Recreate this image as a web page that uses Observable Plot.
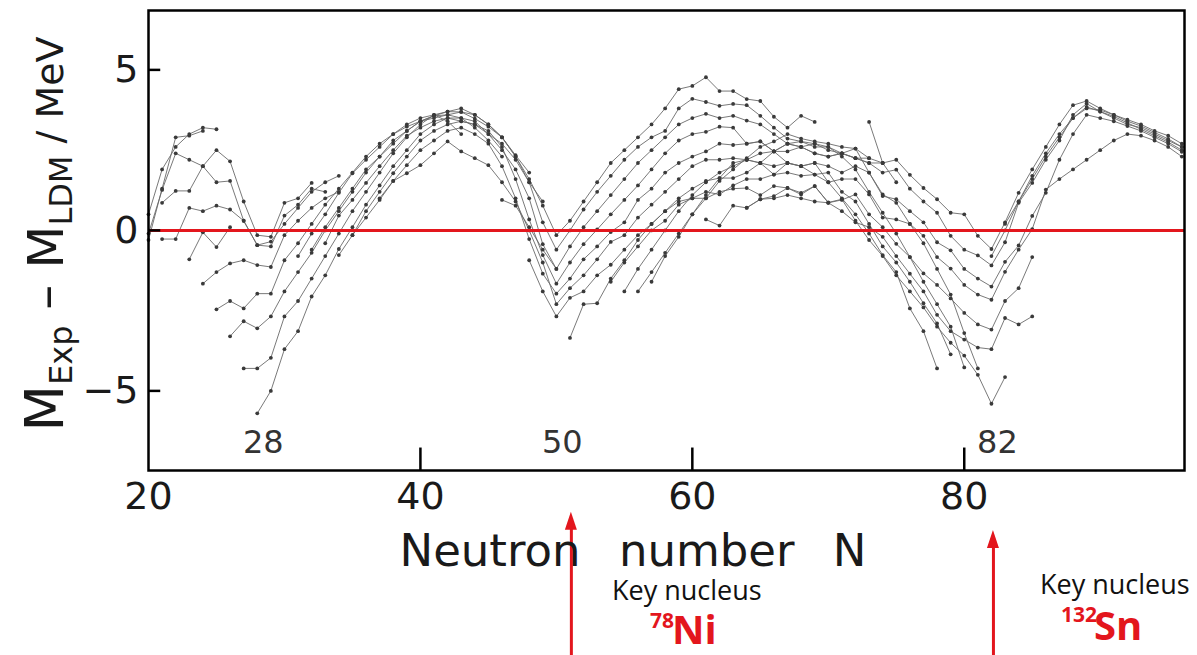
<!DOCTYPE html>
<html>
<head>
<meta charset="utf-8">
<script src="https://cdn.jsdelivr.net/npm/d3@7"></script>
<script src="https://cdn.jsdelivr.net/npm/@observablehq/plot@0.6"></script>
<style>
  html, body { margin: 0; padding: 0; background: #fff; }
  #chart { width: 1197px; height: 655px; }
</style>
</head>
<body>
<div id="chart"></div>
<script>
// Isotopic chains: [first neutron number N, mass differences M_exp - M_LDM (MeV) at N, N+1, ...]
const lightChains = [
  [20, [-0.3, 1.3, 2.9, 2.95, 3.1]],
  [20, [0.5, 1.9, 2.6, 3.0, 3.2, 3.15]],
  [20, [-0.1, 1.26, 2.4, 2.2, 2.0, 2.5, 2.15, 0.9, -0.15, -0.2, 0.86, 1.0, 1.48]],
  [21, [0.86, 1.23, 1.23, 2.0, 1.5, 1.54, 0.3, -0.46, -0.5, 0.46, 0.8, 1.3, 1.2]],
  [21, [-0.27, -0.27, 0.7, 0.6, 0.77, 0.65, 0.3, -0.46, -0.35, 0.2, 0.7, 1.2, 1.5, 1.7]],
  [23, [-0.9, -0.06, -0.52, 0.1]],
  [24, [-1.66, -1.3, -1.03, -0.93, -1.08, -1.14, -0.15, 0.3, 0.7, 1.0, 1.2]],
  [25, [-2.46, -2.2, -2.43, -1.97, -1.97, -0.93, -0.4, 0.2, 0.8, 1.3, 1.8, 2.3, 2.7, 3.0, 3.3, 3.5, 3.6, 3.4, 3.0]],
  [26, [-3.3, -2.83, -3.05, -2.68, -1.9, -1.3, -0.7, 0.0, 0.6, 1.2, 1.8, 2.3, 2.8, 3.1, 3.4, 3.5, 3.6, 3.5, 3.2, 2.8, 2.3]],
  [27, [-4.3, -4.3, -3.97, -2.68, -2.2, -1.5, -0.8, -0.1, 0.6, 1.2, 1.8, 2.4, 2.9, 3.3, 3.6, 3.7, 3.8, 3.6, 3.3, 2.9, 2.34, 1.8]],
  [28, [-5.7, -5.0, -3.7, -3.14, -2.06, -1.4, -0.58, 0.1, 0.8, 1.4, 2.0, 2.5, 3.0, 3.3, 3.5, 3.4, 3.3, 3.0, 2.7, 2.2, 1.5, 0.9]]
];

const midChains = [
  [31, [-0.8, -0.1, 0.5, 1.17, 1.78, 2.2, 2.6, 3.0, 3.23, 3.4, 3.57, 3.6, 3.69, 3.48, 3.23, 2.9, 2.3, 1.6, 0.77, -0.15,
        0.3, 0.9, 1.5, 2.1, 2.5, 2.9, 3.3, 3.8, 4.4, 4.5, 4.77, 4.34, 4.34, 4.09, 4.03, 3.54, 3.2, 3.57, 3.38]],
  [32, [-0.6, 0.1, 0.7, 1.3, 1.9, 2.3, 2.7, 3.1, 3.4, 3.57, 3.7, 3.69, 3.6, 3.3, 2.9, 2.3, 1.5, 0.25, -0.6,
        0.0, 0.65, 1.2, 1.7, 2.2, 2.6, 2.9, 3.1, 3.8, 4.1, 4.0, 3.88, 3.94, 3.9, 3.57, 3.2, 2.86, 2.77, 2.7, 2.6,
        2.3, 1.9, 1.2, 0.55, -0.1, -0.83, -1.6, -2.3, -3.0, -4.27]],
  [33, [-0.4, 0.46, 0.95, 1.48, 2.0, 2.5, 2.95, 3.2, 3.4, 3.5, 3.5, 3.4, 3.0, 2.5, 1.9, 1.0, -0.43, -1.2,
        -0.5, 0.1, 0.6, 1.1, 1.6, 2.1, 2.5, 2.9, 3.3, 3.5, 3.63, 3.5, 3.57, 3.42, 3.3, 3.0, 2.7, 2.6, 2.7, 2.5, 2.4, 2.55,
        1.8, 1.12, 0.86, 0.2, -0.4, -1.2, -2.0, -3.2, -4.3]],
  [34, [-0.77, -0.15, 0.6, 1.2, 1.78, 2.3, 2.8, 3.1, 3.3, 3.4, 3.3, 3.1, 2.6, 1.6, 0.34, -0.77, -1.66,
        -1.0, -0.43, 0.03, 0.5, 0.95, 1.4, 1.9, 2.4, 2.8, 3.0, 3.07, 3.23, 3.2, 2.7, 2.77, 2.46, 2.46, 2.6, 2.4, 2.3, 2.4, 2.25, 2.25]],
  [35, [-0.15, 0.4, 0.95, 1.54, 2.03, 2.5, 2.8, 3.1, 3.2, 3.0, 2.7, 2.0, 1.0, -0.27, -1.35, -1.97,
        -1.5, -0.9, -0.5, -0.05, 0.25, 0.95, 1.3, 1.8, 2.1, 2.3, 2.46, 2.7, 2.66, 2.7, 2.77, 2.46, 2.7, 2.77, 2.6, 2.6, 2.4, 2.25, 2.1, 2.1]],
  [37, [1.0, 1.54, 1.78, 2.03, 2.4, 2.77, 2.46, 2.25, 2.03, 1.5, 0.9, 0.0, -1.0, -2.3,
        -1.8, -1.4, -0.9, -0.36, -0.15, 0.4, 0.8, 1.2, 1.6, 2.0, 2.2, 2.2, 2.25, 2.2, 2.1, 1.74, 2.1, 2.0,
        2.1, 1.5, 1.0, 0.5, -0.1, -0.77, -1.3, -2.43, -3.14, -4.3]],
  [46, [0.95, 0.77, 0.1, -0.6, -1.2]],
  [48, [-0.93, -1.9, -2.68, -2.1, -1.9, -1.4, -1.07, -0.6, -0.15, 0.2, 0.6, 1.0, 1.3, 1.54, 1.63, 1.63, 1.8, 2.1, 2.46,
        2.1, 2.0, 1.74, 1.8, 1.2, 0.9, 0.2, -0.5, -1.0, -1.6, -2.27, -2.9, -3.86]]
];

const heavyChains = [
  [57, [-1.6, -0.8, -0.2, 0.5, 1.0, 1.54, 1.9, 2.25, 2.6, 2.77, 3.0, 2.86, 2.77, 2.7, 2.6,
        2.55, 2.25, 2.1, 2.2, 1.73, 1.32, 0.97, 0.55, 0.5, -0.17, -0.58, 0.25, 1.17, 1.9, 2.6, 3.3, 3.9, 4.03,
        3.8, 3.6, 3.45, 3.3, 3.1, 2.95, 2.7]],
  [56, [-1.9, -1.3, -0.7, -0.1, 0.5, 1.1, 1.63, 2.1, 2.2, 2.4, 2.46, 2.7, 2.6, 2.4, 2.3, 2.4,
        2.25, 2.1, 1.8, 1.89, 1.3, 0.9, 0.55, -0.17, -0.6, -0.78, -1.09, -0.37, 0.86, 1.48, 2.2, 2.8, 3.6, 3.95,
        3.7, 3.55, 3.35, 3.15, 2.95, 2.75, 2.5]],
  [55, [-1.9, -1.2, -0.6, 0.0, 0.6, 1.1, 1.5, 1.8, 2.0, 2.2, 2.1, 2.0, 2.1, 2.0, 2.1, 2.0, 1.8,
        2.0, 1.8, 1.07, 0.97, 0.6, 0.25, -0.37, -0.62, -1.2, -1.5, -1.75, -0.98, -0.47, 0.45, 1.17, 2.2, 3.0, 3.6,
        3.5, 3.4, 3.25, 3.1, 2.9, 2.7, 2.45]],
  [54, [-1.6, -1.0, -0.5, 0.0, 0.3, 0.8, 1.0, 1.2, 1.12, 1.4, 1.6, 1.6, 1.74, 1.8, 1.7, 1.74, 1.5, 1.6,
        1.6, 1.12, 0.4, 0.34, 0.2, -0.17, -0.83, -1.19, -1.7, -2.0, -2.16, -1.29, -0.6, 0.04, 1.27,
        1.6, 1.9, 2.2, 2.5, 2.8, 3.0, 2.95, 2.8, 2.6, 2.3]],
  [51, [-3.35, -2.3, -2.27, -1.5, -0.93, -0.3, 0.2, 0.6, 0.9, 1.0, 1.0, 1.2, 1.3, 1.32, 1.1, 1.38, 1.32, 1.17, 1.38,
        0.86, 0.95, 1.12, 0.5, 0.1, -0.42, -0.83, -1.34, -1.7, -2.12, -2.57, -2.93, -3.09, -2.2, -1.8, -0.83]],
  [61, [0.34, 0.15, 0.77, 0.7, 0.97, 1.0, 1.1, 1.0, 0.9, 0.86, 0.6, 0.25, 0.1, -0.2, -0.8, -1.35, -1.9,
        -2.63, -3.14, -3.4, -3.65, -3.7, -2.73, -2.93, -2.68]],
  [64, [0.71, 0.97, 1.07, 1.32, 1.12, 1.38, 0.87, 0.97, 0.3, -0.3, -0.8, -1.4, -1.9, -2.4, -3.0, -3.5, -3.9, -4.5, -5.4, -4.57]],
  [73, [3.38, 2.1, 1.5]],
  [83, [0.2, 0.9, 1.6, 2.3, 2.9, 3.5, 3.8, 3.75, 3.6, 3.4, 3.25, 3.05, 2.85, 2.6]],
  [82, [-0.8, 0.0, 0.9, 1.7, 2.4, 3.0, 3.5, 3.85, 3.7, 3.5, 3.3, 3.2, 3.0, 2.8, 2.6]]
];

const xTicks = [20, 40, 60, 80];
const innerXTicks = [40, 60, 80];
const yTicks = [-5, 0, 5];
const magicNumbers = [28, 50, 82];
const keyNuclei = [
  {label: "Ni", mass: "78", N: 50},
  {label: "Sn", mass: "132", N: 82}
];

const xDomain = [20, 96.2];
const yDomain = [-7.48, 6.85];

const points = [...lightChains, ...midChains, ...heavyChains].flatMap(([start, values], i) =>
  values.map((v, k) => ({chain: i, N: start + k, dM: v}))
);

const red = "#e3161d";
// arrow geometry for the two key nuclei (horizontal nudge in px, tip and tail in MeV units)
const arrowStyle = [
  {dx: 15, tip: -8.78},
  {dx: 2, tip: -9.35}
];
const arrowTail = -13.4;

const chart = Plot.plot({
  width: 1197,
  height: 655,
  marginTop: 10,
  marginBottom: 185,
  marginLeft: 148,
  marginRight: 13,
  x: {domain: xDomain},
  y: {domain: yDomain},
  style: {fontFamily: "DejaVu Sans", background: "white", color: "#1a1a1a"},
  marks: [
    Plot.line(points, {x: "N", y: "dM", z: "chain", stroke: "#6a6a6a", strokeWidth: 0.9}),
    Plot.dot(points, {x: "N", y: "dM", r: 1.9, fill: "#3a3a3a", stroke: "none"}),
    Plot.ruleY([0], {stroke: red, strokeWidth: 3}),
    Plot.ruleY(yTicks, {x1: xDomain[0], x2: xDomain[0] + 0.9, stroke: "black", strokeWidth: 2.5}),
    Plot.ruleX(innerXTicks, {y1: yDomain[0], y2: yDomain[0] + 0.7, stroke: "black", strokeWidth: 2.5}),
    Plot.frame({stroke: "black", strokeWidth: 2.5}),
    Plot.axisX({ticks: xTicks, tickSize: 0, tickPadding: 12, fontSize: 38, label: null}),
    Plot.axisY({ticks: yTicks, tickSize: 0, tickPadding: 10, fontSize: 38, label: null}),
    Plot.text(magicNumbers, {x: d => d, y: -6.6, text: d => String(d), dx: 6, fontSize: 32, fill: "#333"}),
    ...keyNuclei.map((d, i) =>
      Plot.ruleX([d], {x: "N", y1: arrowTail, y2: arrowStyle[i].tip - 0.3, dx: arrowStyle[i].dx,
        stroke: red, strokeWidth: 3})
    )
  ]
});

document.getElementById("chart").appendChild(chart);

const svg = d3.select(chart);
const xs = chart.scale("x");
const ys = chart.scale("y");

// filled arrow heads on the key-nucleus markers
keyNuclei.forEach((d, i) => {
  const cx = xs.apply(d.N) + arrowStyle[i].dx;
  const ty = ys.apply(arrowStyle[i].tip);
  svg.append("path")
    .attr("d", `M${cx},${ty} L${cx - 6},${ty + 18} L${cx + 6},${ty + 18} Z`)
    .attr("fill", red);
});

// axis titles
const yTitle = svg.append("text")
  .attr("transform", "translate(63,234) rotate(-90)")
  .attr("text-anchor", "middle")
  .attr("font-family", "DejaVu Sans")
  .attr("fill", "#1a1a1a");
yTitle.append("tspan").attr("font-size", 54).text("M");
yTitle.append("tspan").attr("font-size", 32).attr("dy", 9).text("Exp");
yTitle.append("tspan").attr("font-size", 50).attr("dy", -9).text(" – M");
yTitle.append("tspan").attr("font-size", 32).attr("dy", 9).text("LDM");
yTitle.append("tspan").attr("font-size", 38).attr("dy", -9).text(" / MeV");

svg.append("text")
  .attr("x", 633).attr("y", 566)
  .attr("text-anchor", "middle")
  .attr("font-family", "DejaVu Sans")
  .attr("font-size", 45)
  .attr("word-spacing", 24)
  .attr("fill", "#1a1a1a")
  .text("Neutron number N");

// key nucleus notes
const noteFont = "'Open Sans', sans-serif";
const notes = [
  {x: 612, y: 600, massX: 650, massY: 628, symX: 672, symY: 644},
  {x: 1040, y: 594, massX: 1061, massY: 622, symX: 1094, symY: 640}
];
keyNuclei.forEach((d, i) => {
  const p = notes[i];
  svg.append("text").attr("x", p.x).attr("y", p.y).attr("text-anchor", "start")
    .attr("font-family", noteFont).attr("font-size", 27).attr("fill", "#111")
    .text("Key nucleus");
  svg.append("text").attr("x", p.massX).attr("y", p.massY).attr("text-anchor", "start")
    .attr("font-family", noteFont).attr("font-weight", "bold").attr("font-size", 21).attr("fill", red)
    .text(d.mass);
  svg.append("text").attr("x", p.symX).attr("y", p.symY).attr("text-anchor", "start")
    .attr("font-family", noteFont).attr("font-weight", "bold").attr("font-size", 40).attr("fill", red)
    .text(d.label);
});
</script>
</body>
</html>
